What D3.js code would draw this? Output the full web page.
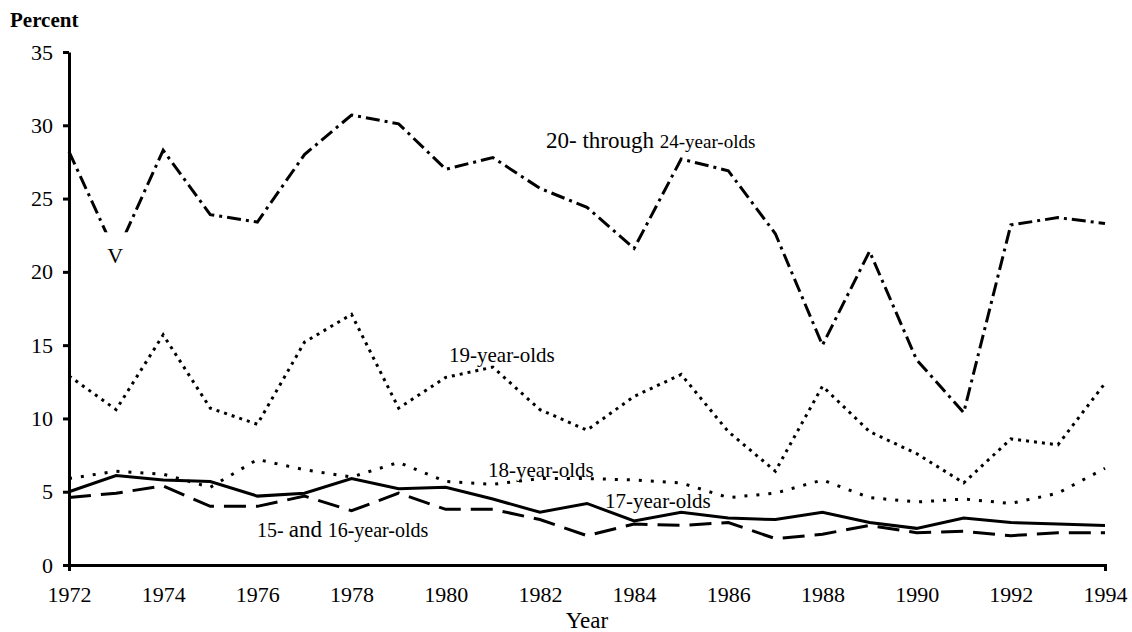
<!DOCTYPE html>
<html>
<head>
<meta charset="utf-8">
<script src="https://cdn.jsdelivr.net/npm/d3@7"></script>
<style>
  body { margin: 0; background: #fff; }
  text { font-family: "Liberation Serif", "Times New Roman", serif; fill: #000; }
</style>
</head>
<body>
<div id="chart"></div>
<script>
const years = d3.range(1972, 1995);

const age20to24 = [28.2, 21.2, 28.3, 23.9, 23.4, 28.0, 30.7, 30.1, 27.0, 27.8, 25.7, 24.4,
                   21.6, 27.7, 26.9, 22.6, 15.0, 21.4, 14.0, 10.4, 23.2, 23.7, 23.3];
const age19 = [12.9, 10.6, 15.7, 10.7, 9.6, 15.2, 17.1, 10.7, 12.8, 13.5, 10.6, 9.2,
               11.5, 13.0, 9.1, 6.4, 12.2, 9.1, 7.6, 5.6, 8.6, 8.2, 12.4];
const age18 = [5.9, 6.4, 6.2, 5.3, 7.2, 6.5, 6.0, 7.0, 5.7, 5.5, 5.9, 5.9,
               5.8, 5.6, 4.6, 4.9, 5.8, 4.6, 4.3, 4.5, 4.2, 4.9, 6.6];
const age17 = [5.0, 6.1, 5.8, 5.7, 4.7, 4.9, 5.9, 5.2, 5.3, 4.5, 3.6, 4.2,
               3.0, 3.6, 3.2, 3.1, 3.6, 2.9, 2.5, 3.2, 2.9, 2.8, 2.7];
const age15to16 = [4.6, 4.9, 5.4, 4.0, 4.0, 4.7, 3.7, 4.9, 3.8, 3.8, 3.1, 2.0,
                   2.8, 2.7, 2.9, 1.8, 2.1, 2.7, 2.2, 2.3, 2.0, 2.2, 2.2];

const yTicks = [0, 5, 10, 15, 20, 25, 30, 35];
const xTicks = d3.range(1972, 1995, 2);

const series = [
  { name: "20-24", values: age20to24, dash: "14,5,3,5" },
  { name: "19", values: age19, dash: "3,5" },
  { name: "18", values: age18, dash: "3,9" },
  { name: "17", values: age17, dash: null },
  { name: "15-16", values: age15to16, dash: "22,10" }
];

const svgWidth = 1132;
const svgHeight = 632;
const margin = { top: 52, right: 27, bottom: 67, left: 69 };
const width = svgWidth - margin.left - margin.right;
const height = svgHeight - margin.top - margin.bottom;

const svg = d3.select("#chart")
    .append("svg")
    .attr("width", svgWidth)
    .attr("height", svgHeight);

const g = svg.append("g")
    .attr("transform", `translate(${margin.left}, ${margin.top})`);

const x = d3.scaleLinear().domain([1972, 1994]).range([0, width]);
const y = d3.scaleLinear().domain([0, 35]).range([height, 0]);

const line = d3.line()
    .x((d, i) => x(years[i]))
    .y(d => y(d));

g.selectAll("path.series")
    .data(series)
    .enter()
    .append("path")
    .attr("class", "series")
    .attr("d", d => line(d.values))
    .attr("fill", "none")
    .attr("stroke", "#000")
    .attr("stroke-width", 3)
    .attr("stroke-dasharray", d => d.dash);

// gap in the 20-24 line where the "V" sits
g.append("rect")
    .attr("x", x(1973) - 16)
    .attr("y", y(age20to24[1]) - 22)
    .attr("width", 36)
    .attr("height", 36)
    .attr("fill", "#fff");
g.append("text")
    .attr("x", x(1973) - 1)
    .attr("y", y(age20to24[1]) + 9)
    .attr("text-anchor", "middle")
    .style("font-size", "22px")
    .text("V");

// axes
const yAxis = g.append("g")
    .call(d3.axisLeft(y).tickValues(yTicks).tickSize(6).tickPadding(10).tickSizeOuter(0));
const xAxis = g.append("g")
    .attr("transform", `translate(0, ${height})`)
    .call(d3.axisBottom(x).tickValues(xTicks).tickFormat(d3.format("d"))
        .tickSizeInner(0).tickSizeOuter(6).tickPadding(21));

[yAxis, xAxis].forEach(a => {
  a.selectAll("path, line").attr("stroke", "#000").attr("stroke-width", 3);
  a.selectAll("text")
    .style("font-family", "'Liberation Serif', 'Times New Roman', serif")
    .style("font-size", "22px")
    .attr("fill", "#000");
});

svg.append("text")
    .attr("x", 10).attr("y", 27)
    .style("font-size", "21px")
    .style("font-weight", "bold")
    .text("Percent");

svg.append("text")
    .attr("x", margin.left + x(1983))
    .attr("y", 628)
    .attr("text-anchor", "middle")
    .style("font-size", "23px")
    .text("Year");

// series labels
const l1 = svg.append("text").attr("x", 546).attr("y", 148);
l1.append("tspan").style("font-size", "23px").text("20- through ");
l1.append("tspan").style("font-size", "19px").text("24-year-olds");

svg.append("text").attr("x", 449).attr("y", 362)
    .style("font-size", "21px").text("19-year-olds");
svg.append("text").attr("x", 488).attr("y", 477)
    .style("font-size", "21px").text("18-year-olds");
svg.append("text").attr("x", 605).attr("y", 508)
    .style("font-size", "21px").text("17-year-olds");

const l5 = svg.append("text").attr("x", 257).attr("y", 537);
l5.append("tspan").style("font-size", "20px").text("15- ");
l5.append("tspan").style("font-size", "23px").text("and ");
l5.append("tspan").style("font-size", "20px").text("16-year-olds");
</script>
</body>
</html>
